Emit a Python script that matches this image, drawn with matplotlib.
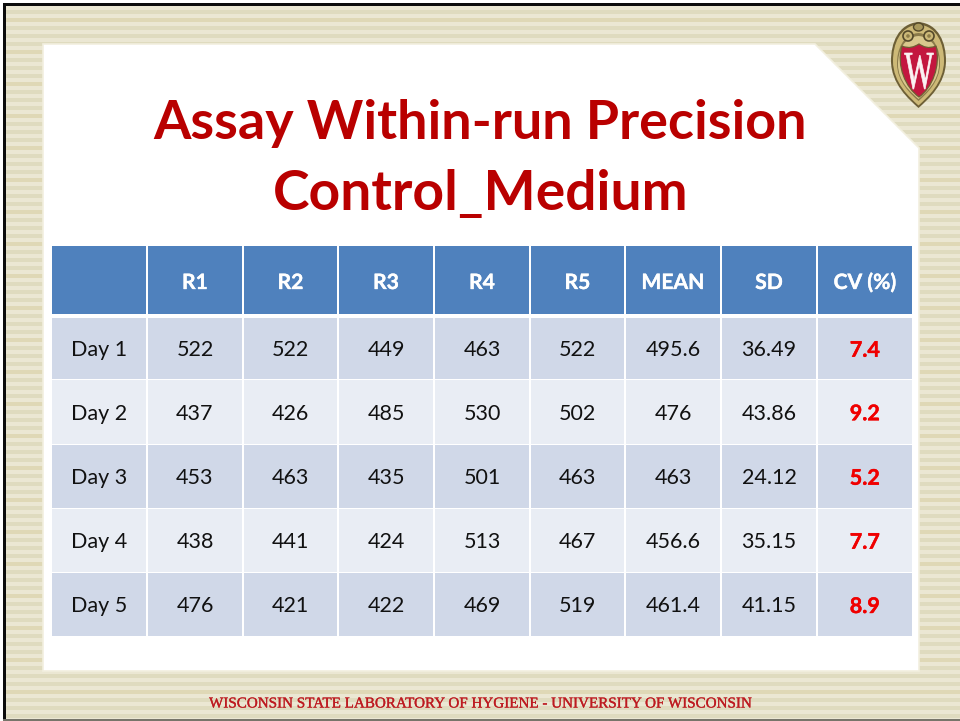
import matplotlib
matplotlib.use("Agg")
import matplotlib.pyplot as plt
import matplotlib.patheffects as pe
from matplotlib.patches import Polygon, Rectangle, Ellipse, PathPatch, Circle
from matplotlib.path import Path
from matplotlib.textpath import TextPath
from matplotlib.font_manager import FontProperties
from matplotlib.transforms import Affine2D

columns = ["", "R1", "R2", "R3", "R4", "R5", "MEAN", "SD", "CV (%)"]
days = ["Day 1", "Day 2", "Day 3", "Day 4", "Day 5"]
r1 = ["522", "437", "453", "438", "476"]
r2 = ["522", "426", "463", "441", "421"]
r3 = ["449", "485", "435", "424", "422"]
r4 = ["463", "530", "501", "513", "469"]
r5 = ["522", "502", "463", "467", "519"]
mean = ["495.6", "476", "463", "456.6", "461.4"]
sd = ["36.49", "43.86", "24.12", "35.15", "41.15"]
cv = ["7.4", "9.2", "5.2", "7.7", "8.9"]
title_lines = ["Assay Within-run Precision", "Control_Medium"]
footer = "WISCONSIN STATE LABORATORY OF HYGIENE - UNIVERSITY OF WISCONSIN"

W, H = 960, 721
fig = plt.figure(figsize=(9.6, 7.21), dpi=100)
ax = fig.add_axes([0, 0, 1, 1])
ax.set_xlim(0, W); ax.set_ylim(H, 0); ax.axis("off")

# striped background
ax.add_patch(Rectangle((0, 0), W, H, fc="#ebe7d3", ec="none", zorder=0))
y = 10
i = 0
while y < H:
    c = "#dfd8b6" if i % 4 == 1 else "#dfdbbf"
    ax.add_patch(Rectangle((0, y), W, 4, fc=c, ec="none", zorder=0.1))
    y += 8
    i += 1

# frame
ax.add_patch(Rectangle((0, 0), W, 3, fc="white", ec="none", zorder=5))
ax.add_patch(Rectangle((3, 3), W, 3, fc="#0c0c0c", ec="none", zorder=5))
ax.add_patch(Rectangle((3, 3), 3, H, fc="#0c0c0c", ec="none", zorder=5))
ax.add_patch(Rectangle((0, 719), W, 2, fc="#77756a", ec="none", zorder=5))
ax.add_patch(Rectangle((0, 0), 3, H, fc="white", ec="none", zorder=5))

# white panel with cut corner
ax.add_patch(Polygon([(43, 44), (815, 44), (919, 148), (919, 671), (43, 671)],
                     closed=True, fc="white", ec="#f2efdf", lw=1.2, zorder=1))

# title
for txt, yy, fs in zip(title_lines, [124, 194], [38.8, 39.7]):
    ax.text(480.5, yy, txt, color="#b90000", fontsize=fs, fontweight="bold",
            family="Lato", ha="center", va="center", zorder=3)

# table
xs = [51.5, 147, 243, 338, 434, 530, 625, 721, 817, 912.5]
ys = [246, 314, 318, 380, 445, 509, 573, 637.5]
gap = 1.3
stroke = [pe.withStroke(linewidth=0.25, foreground="white")]
for c in range(9):
    ax.add_patch(Rectangle((xs[c] + gap / 2, ys[0]), xs[c + 1] - xs[c] - gap, ys[1] - ys[0],
                           fc="#4f81bd", ec="none", zorder=2))
    ax.text((xs[c] + xs[c + 1]) / 2, 283, columns[c], color="white", fontsize=15.2,
            fontweight="bold", family="Lato", ha="center", va="center", zorder=3,
            path_effects=stroke)

table_cols = [days, r1, r2, r3, r4, r5, mean, sd, cv]
for r in range(5):
    top = ys[r + 2]
    bot = ys[r + 3] - 1.5
    fill = "#d0d8e8" if r % 2 == 0 else "#e9edf4"
    for c in range(9):
        ax.add_patch(Rectangle((xs[c] + gap / 2, top), xs[c + 1] - xs[c] - gap, bot - top,
                               fc=fill, ec="none", zorder=2))
        last = c == 8
        kw = {"path_effects": [pe.withStroke(linewidth=0.3, foreground="#f00000")]} if last else {}
        ax.text((xs[c] + xs[c + 1]) / 2, (top + bot) / 2 + 2.0, table_cols[c][r],
                color="#f00000" if last else "#111111", fontsize=15.5,
                fontweight="bold" if last else "normal", family="Lato",
                ha="center", va="center", zorder=3, **kw)

# footer
ax.text(481, 704, footer, color="#bd1a20", fontsize=10.88, family="Liberation Serif",
        ha="center", va="center", zorder=3,
        path_effects=[pe.withStroke(linewidth=0.2, foreground="#bd1a20")])

# crest
cx = 918.5
def shield(w, top, bot, **kw):
    h = bot - top
    verts = [(cx, top),
             (cx + w * .75, top + h * .02), (cx + w, top + h * .25), (cx + w, top + h * .45),
             (cx + w, top + h * .72), (cx + w * .35, top + h * .90), (cx, bot),
             (cx - w * .35, top + h * .90), (cx - w, top + h * .72), (cx - w, top + h * .45),
             (cx - w, top + h * .25), (cx - w * .75, top + h * .02), (cx, top)]
    return PathPatch(Path(verts, [Path.MOVETO] + [Path.CURVE4] * 12), **kw)

ax.add_patch(shield(27.5, 22, 108, fc="#6d5f36", ec="none", zorder=3))
ax.add_patch(shield(25.5, 24.5, 105.5, fc="#cdb977", ec="none", zorder=3.1))
ax.add_patch(shield(21.5, 33, 101, fc="#8a7a4a", ec="none", zorder=3.15))
ax.add_patch(shield(20.5, 36, 99, fc="#d9c88d", ec="none", zorder=3.2))
# scrolls above the shield
for sx in (908, 929):
    ax.add_patch(Circle((sx, 36), 5, fc="#cbb878", ec="#54492a", lw=1.2, zorder=3.3))
    ax.add_patch(Circle((sx, 36), 1.8, fc="#8d7c48", ec="none", zorder=3.35))
ax.add_patch(Ellipse((918.5, 27), 10, 8, fc="#a8985c", ec="#54492a", lw=1, zorder=3.3))
# red shield
verts = [(902, 46), (909, 49), (914, 47), (919, 44), (924, 47), (928, 49), (936, 46),
         (941, 66), (932, 88), (919, 97), (906, 88), (896, 66), (902, 46)]
ax.add_patch(PathPatch(Path(verts, [Path.MOVETO] + [Path.CURVE4] * 12),
                       fc="#c3173f", ec="#6e5e33", lw=0.9, zorder=3.4))
# W scaled to its box
tp = TextPath((0, 0), "W", size=10, prop=FontProperties(family="Liberation Serif"))
bb = tp.get_extents()
tf = (Affine2D().translate(-bb.x0, -bb.y0).scale(29 / bb.width, -36 / bb.height)
      .translate(904.5, 89))
ax.add_patch(PathPatch(tf.transform_path(tp), fc="#fbf3f3", ec="#fbf3f3", lw=0.5, zorder=3.5))

fig.savefig("out.png", dpi=100)
